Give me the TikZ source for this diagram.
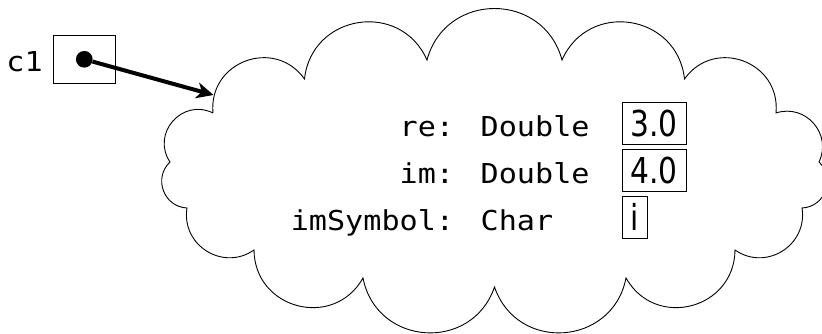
\documentclass[tikz,border=0pt]{standalone}
\usepackage{fontspec}
\usepackage{tikz}
\usetikzlibrary{arrows.meta, positioning}

\newfontfamily\codefont[FakeStretch=1.1]{DejaVu Sans Mono}
\newfontfamily\valuefont[FakeStretch=0.832]{DejaVu Sans}

\begin{document}
\begin{tikzpicture}[x=1pt, y=1pt,
    code/.style={font=\codefont\fontsize{27.4}{30}\selectfont, inner sep=0pt},
    pointer/.style={rectangle, draw, line width=0.9pt, minimum width=62pt, minimum height=48pt},
    dot/.style={circle, fill, inner sep=0pt, minimum size=16.7pt},
    value/.style={rectangle, draw, line width=0.9pt, font=\valuefont\fontsize{35.7}{40}\selectfont,
        inner xsep=8.4pt, inner ysep=0pt, text height=34.3pt, text depth=8pt},
    puff/.style={bend left=75, looseness=1.35},
    side puff/.style={bend left=67, looseness=1.22}]

    \useasboundingbox (0,0) rectangle (822,334);

    % variable c1 and its reference
    \node [pointer] (ptr) at (84.3,274.7) {};
    \node [dot] (ref) at (ptr.center) {};
    \node [code, left=10pt of ptr, yshift=-2.4pt] (c1) {c1};

    % the object
    \draw [line width=0.9pt] (213,221) to[puff] (304.5,255) to[puff] (427,274) to[puff] (562,274)
        to[puff] (684.5,255) to[puff] (776,221) to[side puff] (819,172) to[side puff] (802,126)
        to[side puff] (735,84) to[puff] (626,56) to[puff] (494.5,47) to[puff] (363,56)
        to[puff] (254,84) to[side puff] (187,126) to[side puff] (170,172) to[puff] (213,221);
    \coordinate (objedge) at (213.5,239);

    \node [code, anchor=base east] (re) at (454.3,197.7) {re:};
    \node [code, anchor=base east] (im) at (454.3,150.2) {im:};
    \node [code, anchor=base east] (imsym) at (454.3,103.2) {imSymbol:};
    \node [code, base right=26.2pt of re] (retype) {Double};
    \node [code, base right=26.2pt of im] (imtype) {Double};
    \node [code, base right=26.2pt of imsym] (imsymtype) {Char};

    \node [value, anchor=base west] (reval) at (621.7,197.7) {3.0};
    \node [value, anchor=base west] (imval) at (621.7,150.2) {4.0};
    \node [value, anchor=base west] (imsymval) at (621.7,103.2) {i};

    \draw [-{Stealth[length=17pt, width=16pt, inset=5pt]}, line width=4pt] (ref) -- (objedge);
\end{tikzpicture}
\end{document}
